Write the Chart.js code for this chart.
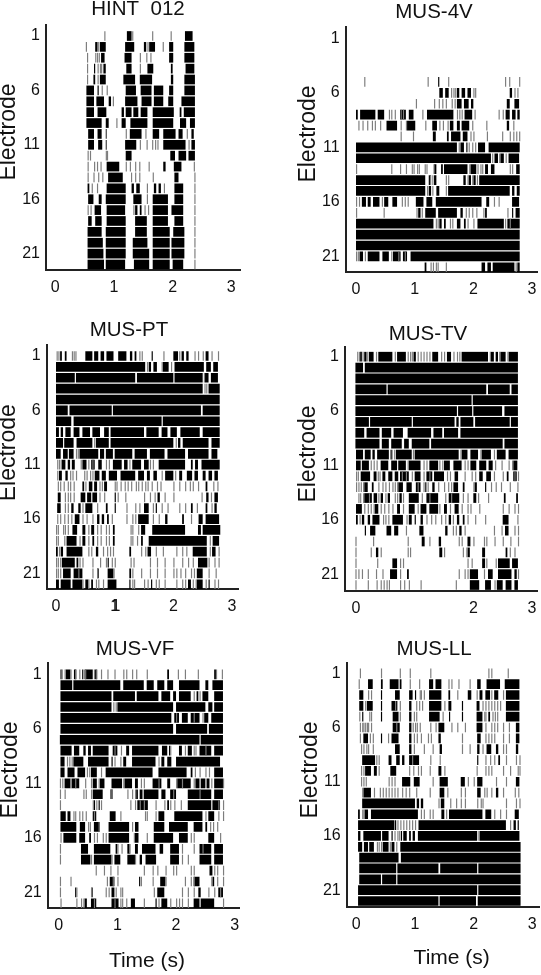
<!DOCTYPE html>
<html><head><meta charset="utf-8">
<script src="https://cdn.jsdelivr.net/npm/chart.js@4"></script>
<style>html,body{margin:0;padding:0;background:#fff;overflow:hidden;width:541px;height:975px}canvas{position:absolute}</style>
</head><body>
<script>
// Each row list = electrodes 1..22. Spans: flat start,end pairs in seconds (dense firing). Spikes: single spike times in seconds.
const electrodeTicks=[1,6,11,16,21];
const timeTicks=[0,1,2,3];
const timeTicksTV=[0,2,3];
const timeTicksPT=[0,1,1.02,2,3];
const hintSpans=[
[1.22,1.30,2.21,2.34],
[.68,.72,.76,.86,1.19,1.345,1.51,1.55,1.6,1.70,1.94,2.01,2.2,2.37],
[.78,.84,1.18,1.30,1.94,2.01,2.2,2.37],
[.66,.68,.82,.86,1.21,1.30,1.57,1.67,1.97,2.0,2.22,2.37],
[.65,.68,.76,.86,1.16,1.36,1.44,1.65,1.97,2.01,2.2,2.38],
[.53,.66,.72,.74,1.2,1.375,1.455,1.64,1.68,1.84,1.94,2.01,2.2,2.38],
[.53,.66,.7,.83,.91,.95,1.19,1.40,1.47,1.64,1.68,1.84,1.925,2.01,2.15,2.38],
[.53,.66,.72,.87,1.13,1.17,1.2,1.3,1.33,1.415,1.455,1.57,1.66,2.02,2.12,2.15,2.19,2.38],
[.53,.79,.86,.91,1.13,1.2,1.28,1.57,1.66,2.01,2.125,2.23,2.295,2.38],
[.56,.66,.72,.79,.86,.875,1.27,1.47,1.66,1.77,1.84,2.05,2.10,2.17,2.32,2.36],
[.56,.66,.73,.8,.86,.875,1.19,1.38,1.84,2.22,2.32,2.38],
[1.2,1.3,1.96,2.04,2.1,2.23,2.27,2.38],
[.875,1.09,1.84,1.88,2.02,2.15],
[.9,1.15,2.03,2.1],
[.55,.58,.875,1.20,1.3,1.34,1.38,1.44,1.68,1.72,1.76,1.8,2.03,2.18],
[.56,.65,.74,.79,.86,1.2,1.33,1.47,1.66,1.92,2.03,2.18],
[.67,.78,.875,1.19,1.36,1.4,1.44,1.47,1.66,1.92,1.98,2.18],
[.56,.62,.68,.79,.875,1.2,1.36,1.56,1.66,1.92,2.03,2.18],
[.55,.79,.86,1.2,1.36,1.56,1.66,1.95,2.01,2.2],
[.55,.81,.86,1.2,1.32,1.57,1.66,1.95,1.98,2.2],
[.55,.82,.86,1.2,1.32,1.6,1.66,1.95,1.98,2.2],
[.55,.83,.86,1.19,1.34,1.6,1.66,1.95,2.0,2.18]];
const hintSpikes=[
[.835,1.31,1.65,1.965],
[.52,.73,1.57,1.83],
[.54,.68,.71,.74,1.44,1.55,1.62],
[.54,.72,.76,.78,1.44],
[.54,.72],
[.79,.875],
[.98],[],
[1.04],
[1.2,1.535,2.24],
[1.44,1.555,1.65,1.7,1.74,2.27],
[.55,.59,.86,.88],
[.55,.66,.71,.77,1.2,1.27,1.36,1.43,1.59,2.36],
[.55,.65,.73,.8,1.29,1.36,1.43,1.66,2.37],
[.62,.71,1.56,1.85,2.37],
[1.56,2.37],
[.55,.6,1.33,1.52,1.58,2.37],
[2.37],[2.37],[2.37],[2.37],[2.37]];
const fourVSpans=[
[],[],[],[],
[1.40,1.42],
[1.42,1.48,1.52,1.58,1.72,1.76,1.8,1.86,1.9,1.96,2.62,2.66],
[1.72,1.8,1.84,1.92,1.96,2.0,2.57,2.62,2.7,2.78],
[0,.03,.07,.33,.37,.48,.75,.85,.9,.98,1.21,1.66,1.85,1.98,2.55,2.62,2.66,2.72,2.75,2.79],
[.52,.7,.87,1.01,1.3,1.38,1.6,1.66,1.72,1.77,1.8,1.93,2.57,2.61],
[1.31,1.36,1.55,1.58,1.62,1.78,1.82,1.9],
[0,1.72,1.78,1.84,1.88,1.9,2.08,2.2,2.26,2.79],
[0,2.3,2.36,2.42,2.46,2.52,2.6,2.78],
[1.33,1.37,1.45,1.48,1.5,1.9,1.95,2.05,2.2,2.25,2.3,2.36,2.73,2.79],
[0,1.18,1.24,1.28,1.33,1.37,1.83,1.87,1.92,1.96,2.0,2.04,2.1,2.79],
[0,1.18,1.24,1.28,1.37,1.42,1.57,2.62,2.66,2.7,2.74,2.79],
[.1,.17,.2,.25,.29,.4,.48,.55,.62,.7,1.02,1.15,1.2,1.3,1.36,2.14,2.22,2.27,2.66,2.78],
[1.06,1.1,1.18,1.36,1.4,1.72,1.78,1.82,2.2,2.23,2.66,2.68,2.72,2.79],
[0,1.32,1.42,1.46,1.5,1.53,1.72,1.78,1.84,1.87,2.07,2.52,2.58,2.79],
[0,2.79],
[0,2.79],
[.06,.12,.2,.4,.45,.56,.63,.76,.8,.87,.93,2.79],
[1.17,1.2,2.14,2.2,2.24,2.3,2.33,2.7,2.75,2.79]];
const fourVSpikes=[
[],[],[],[],
[.14,1.22,1.57,2.54,2.61,2.78],
[1.62,1.66,1.69,2.0,2.03,2.7,2.75],
[1.02,1.33,1.41,1.47,1.53,1.63,1.68],
[.56,.6,.66,.76,.8,1.13,1.72,1.76,1.8,2.02,2.43,2.5],
[.04,.11,.19,.27,.32,.41,.76,.85,1.18,1.42,1.48,1.56,1.98,2.22,2.68],
[.76,.97,1.95,2.0,2.23,2.49,2.62,2.68,2.73,2.78],
[1.75,1.92,1.98,2.03],
[2.32,2.44,2.55],
[0,.6,.75,.85,.95,.98,1.04,1.07,1.17,1.2,1.32,1.93,2.07,2.12,2.15,2.62,2.66],
[1.26,1.3,1.53,1.57,1.9,1.98,2.06],
[1.21,1.3,1.53],
[0,.05,.44,.78,.83,.88,2.35,2.43],
[0,.47,1.03,1.12,1.87,1.92,1.98,2.05,2.17,2.58],
[1.36,1.39,1.6,1.64,1.9,2.0,2.54,2.62],
[],[],
[0,.03,.15,.6,.72,.83],
[1.27,1.31,1.36,1.39,1.53,2.72]];
const ptSpans=[
[.07,.1,.15,.18,.5,.62,.65,.72,.76,.82,.86,.98,1.06,1.2,1.26,1.3,1.34,1.37,1.63,1.65,2.0,2.08,2.14,2.18,2.22,2.26,2.55,2.6],
[0,1.52,1.58,1.62,1.66,1.72,1.82,1.92,2.02,2.52,2.56,2.64,2.68,2.76],
[0,.32,.34,1.35,1.38,2.0,2.02,2.5,2.54,2.6,2.64,2.76],
[0,2.5,2.6,2.79],
[0,2.79],
[0,.2,.23,.95,.97,2.47,2.5,2.79],
[0,.26,.3,1.8,1.82,2.79],
[0,.05,.08,.12,.16,.25,.3,.4,.45,.58,.62,.75,.82,.9,.93,1.5,1.54,1.75,1.8,1.9,1.95,2.06,2.12,2.45,2.5,2.79],
[0,.12,.14,.3,.35,.62,.68,.9,.93,2.0,2.08,2.12,2.16,2.6,2.65,2.79],
[0,.08,.12,.2,.22,.3,.4,.72,.75,.82,.85,.97,1.0,1.3,1.34,1.55,1.6,1.85,1.9,2.2,2.25,2.6,2.65,2.75],
[.1,.16,.2,.24,.27,.32,.45,.52,.6,.66,.72,.78,.97,1.12,1.16,1.22,1.3,1.45,1.5,1.58,1.75,2.2,2.3,2.33,2.37,2.42,2.48,2.79],
[.05,.1,.16,.2,.66,.74,.78,.85,.9,1.04,1.1,1.35,1.4,1.5,1.55,1.6,1.66,1.72,1.86,2.0,2.1,2.15,2.23,2.32,2.36,2.42,2.5,2.55,2.6,2.66,2.7,2.76],
[.45,.48,.56,.62,.65,.7,.82,.87,2.55,2.58],
[.03,.08,.42,.5,.53,.6,.62,.7,1.0,1.02,1.73,1.77,2.56,2.6,2.7,2.76],
[.02,.08,.26,.3,.38,.42,.5,.62,.85,.88,1.0,1.02,1.5,1.58,1.7,1.72,2.3,2.33,2.55,2.58,2.7,2.74],
[.32,.4,.7,.74,.78,.82,.87,.9,1.4,1.58,1.86,1.9,2.15,2.18,2.43,2.5,2.55,2.78],
[.28,.36,.45,.5,.6,.65,.97,1.0,1.45,1.52,1.64,2.2,2.42,2.47,2.5,2.8],
[.18,.35,.45,.5,.62,.65,.97,1.0,1.45,1.48,1.58,2.57,2.67,2.78],
[0,.03,.08,.12,.18,.45,.68,.72,1.25,1.28,1.56,1.62,2.33,2.57,2.66,2.72],
[.1,.32,.35,.38,.88,.9,2.42,2.58],
[.12,.25,.3,.45,.7,.73,.88,.98,1.25,1.28,2.4,2.5],
[0,.05,.08,.25,.28,.45,.5,.55,.6,.63,.88,1.03,1.25,1.27,1.62,1.64,2.25,2.3,2.4,2.5,2.6,2.62]];
const ptSpikes=[
[.01,.04,.27,.3,.33,1.42,1.46,1.83,2.1,2.36,2.42,2.5,2.65,2.76],
[1.55,1.8,1.96],[2.52],[2.53,2.56],[],[],[],[],
[.65,2.04],
[.34,.37],
[.02,.05,.08,.42,.55,.62,.85,.9,1.25,1.6,1.65],
[.02,.24,.28,.34,.48,.52,.58,.62,1.8,2.03],
[.03,.07,.13,.2,.24,.3,.5,.74,.78,1.0,1.03,1.1,1.17,1.22,1.28,1.36,1.4,1.46,1.52,1.56,1.63,1.72,1.78,2.0,2.1,2.2,2.28,2.33,2.42,2.68,2.75],
[.15,.2,.24,.3,.74,.82,1.05,1.18,1.5,1.6,1.68,1.85,2.0,2.48,2.64],
[.15,.2,.45,.7,1.2,1.35,1.42,1.65,1.8,1.9,2.1,2.2,2.4,2.65],
[.02,.07,.14,.2,.26,.45,.52,.62,.95,1.2,1.3,1.35,1.65,1.75,2.3],
[0,.03,.12,.15,.2,.55,.7,.76,.85,.9,1.27,1.3,1.4],
[0,.03,.14,.4,.55,.7,.76,.85,.9,1.27,1.3,1.38,2.62],
[.05,.55,.6,.8,.87,.92,.97,1.45,1.52,1.7,1.82,2.05,2.15,2.22,2.62,2.77],
[0,.03,.07,.4,.45,.62,.75,.85,.95,1.0,1.27,1.32,1.6,1.72,1.85,2.0,2.15,2.25,2.33,2.6,2.7,2.77],
[0,.03,.07,.38,.62,.7,.98,1.3,1.45,1.6,1.72,1.85,2.0,2.05,2.12,2.2,2.3,2.35,2.6,2.72],
[.45,.55,.68,.72,.8,1.3,1.33,1.5,1.56,1.7,1.75,1.85,2.05,2.15,2.2,2.33,2.38,2.55,2.7,2.76]];
const tvSpans=[
[.07,.1,.14,.18,.22,.3,.38,.62,.7,.85,.98,1.02,1.3,1.4,1.55,1.62,1.8,2.25,2.3,2.35,2.38,2.42,2.46,2.55,2.6,2.76],
[-.01,.12,.15,2.76],
[-.01,2.76],
[-.01,.52,.54,2.22,2.25,2.62,2.65,2.76],
[-.01,1.97,1.99,2.76],
[-.01,1.72,1.74,1.98,2.0,2.49,2.53,2.76],
[-.01,.22,.24,.95,.97,1.68,1.71,1.75,1.78,2.0,2.03,2.62,2.64,2.76],
[-.01,.14,.18,.4,.44,.6,.64,.8,.88,1.28,1.32,1.47,1.5,1.74,1.78,2.76],
[-.01,.4,.44,.56,.6,.78,.82,.9,.95,1.25,1.28,2.5,2.53,2.76],
[0,.12,.15,.25,.28,.32,.36,.56,.6,.62,.68,.95,1.0,1.75,1.8,1.9,1.95,2.08,2.14,2.3,2.4,2.55,2.6,2.76],
[0,.08,.1,.22,.42,.55,.6,.7,.72,.85,.9,1.1,1.25,1.4,1.5,1.6,1.66,1.8,1.95,2.05,2.1,2.22,2.26,2.33,2.68,2.75],
[.08,.24,.3,.35,.45,.5,.55,.62,.66,.72,.75,.9,1.0,1.1,1.2,1.3,1.33,1.5,1.68,1.74,2.1,2.16,2.22,2.3,2.57,2.6,2.68,2.74],
[.14,.2,.27,.3,.72,.8,.86,.95,1.02,1.1,1.18,1.2,1.3,1.34,1.66,1.74,1.82,1.85,2.02,2.06,2.2,2.22],
[.14,.27,.3,.36,.42,.46,.54,.58,.74,.78,.9,1.07,1.2,1.4,1.58,1.76,2.0,2.05,2.52,2.55,2.73,2.76],
[0,.1,.32,.38,.7,.75,.9,1.0,1.1,1.2,1.25,1.4,1.5,1.55,1.68,1.75],
[0,.03,.1,.14,.2,.24,.28,.4,.62,.8,.9,.95,1.0,1.02,1.1,1.14,1.58,1.62,1.72,1.76,1.82,1.85,2.5,2.6],
[.15,.17,.24,.33,.52,.6,.65,.72,1.08,1.15,1.52,1.56,1.76,1.8,2.54,2.6],
[1.12,1.17,1.41,1.45,1.9,1.95],
[.34,.38,1.42,1.47,1.9,1.94,2.15,2.2,2.55,2.58],
[.62,.7,2.15,2.2,2.42,2.62,2.66,2.76],
[.58,.7,.87,.9,1.94,2.08,2.25,2.33,2.42,2.65,2.7,2.74],
[1.94,2.1,2.2,2.3,2.4,2.5,2.55,2.65,2.7,2.76]];
const tvSpikes=[
[.02,.05,.11,.19,.34,.66,.88,.92,.95,1.05,1.1,1.15,1.2,1.25,1.45,1.5,1.66,1.72,1.76,2.28,2.44,2.58],
[],[],[],[],[],[],[],[],
[.58,.65,.97,1.78,2.12,2.35],
[.25,.3,.35,.88,1.15,1.2,1.42,1.47,1.85,1.9,2.37,2.48,2.6,2.66],
[0,.03,.37,.4,.78,.85,.95,1.15,1.25,1.55,1.6,1.85,1.97,2.03,2.35,2.5,2.7,2.76],
[0,.04,.08,.12,.38,.45,.5,.56,.62,.66,.7,1.05,1.15,1.22,1.4,1.5,1.57,1.62,2.0,2.3,2.38,2.47,2.62,2.75],
[.04,.07,.12,.22,.38,.5,.66,.7,.8,1.12,1.25,1.52,1.62,1.82,1.9,2.08,2.25],
[.14,.2,.25,.3,.42,.48,.55,.62,.8,1.05,1.42,1.6,1.8,1.9,1.95,2.1,2.5,2.6,2.7,2.76],
[.06,.46,.5,.55,.86,1.2,1.28,1.35,1.45,1.52,1.65,1.9,2.03,2.2,2.75],
[.85,1.65,1.7,1.85,2.35,2.48,2.7,2.76],
[-.01,.29,.88,1.25,1.75,1.8,2.0,2.18,2.22,2.36,2.5,2.63,2.76],
[-.01,.25,.42,.88,.92,1.5,1.82,1.88,2.62,2.7],
[-.01,.36,.75,.8,1.9,1.97,2.22,2.38],
[-.01,.04,.1,.2,.34,.45,.75,1.75,1.85,1.9,2.18,2.76],
[-.01,.2,.35,.42,.47,.52,.56,.75,.82,.9,1.1,1.7,2.36]];
const vfSpans=[
[.03,.05,.12,.2,.26,.3,.4,.42,.44,.58,.62,.65,1.85,1.88,2.65,2.68],
[.03,.23,.25,1.05,1.1,1.45,1.5,1.62,1.68,1.8,1.85,1.95,2.05,2.4,2.5,2.55,2.62,2.8],
[.03,.9,.93,1.3,1.33,1.7,1.75,1.9,1.95,2.0,2.05,2.25,2.35,2.38,2.45,2.55,2.65,2.8],
[.03,.9,1.0,1.95,2.0,2.5,2.55,2.62,2.65,2.8],
[.03,1.92,1.97,2.05,2.1,2.2,2.25,2.4,2.48,2.55,2.6,2.8],
[.03,1.95,2.0,2.53,2.56,2.8],
[.02,2.4,2.42,2.8],
[.03,.22,.26,.35,.42,.46,.5,.55,.58,.85,.92,1.0,1.15,1.2,1.25,1.7,1.76,1.85,1.88,1.9,2.05,2.1,2.2,2.27,2.4,2.6,2.65,2.8],
[.03,.1,.25,.42,.5,.85,.9,.92,1.1,1.15,1.25,1.65,1.75,1.8,1.85,1.92,2.0,2.75,2.8],
[.03,.1,.15,.27,.32,.45,.55,.65,.8,1.6,1.7,2.18,2.25,2.28,2.65,2.8],
[.1,.2,.22,.35,.58,.65,.7,.78,.9,1.08,1.12,1.25,1.3,1.35,1.6,1.75,1.85,1.9,2.02,2.25,2.33,2.4,2.42,2.5,2.52,2.57,2.65,2.8],
[.58,.75,.88,.92,1.32,1.35,1.38,1.42,1.45,1.7,1.75,1.82,1.9,2,2.2,2.6,2.65,2.8],
[.6,.62,.68,.7,1.34,1.52,1.85,1.88,2.2,2.6,2.62,2.75],
[.03,.12,.15,.2,.58,.64,.87,.97,1.7,1.8,1.97,2.45,2.55,2.65],
[.03,.3,.36,.45,.6,.7,.85,1.2,1.3,1.36,1.62,1.8,1.88,2.2,2.3,2.45,2.5,2.53],
[.08,.3,.35,.45,.52,.55,.85,1.2,1.3,1.36,1.62,1.95,2.05,2.2,2.55,2.65],
[.38,.5,.6,.88,.97,1.0,1.17,1.22,1.3,1.35,1.42,1.65,1.72,1.78,1.9,2.05,2.4,2.6,2.65,2.8],
[.38,.54,.6,.9,.95,1.05,1.17,1.3,1.38,1.42,1.48,1.66,1.9,2.05,2.4,2.6,2.65,2.8],
[2.57,2.62],
[.87,.95,1.37,1.39,1.73,1.82,2.3,2.4,2.62,2.65],
[.28,.3,.56,.58,.9,.95,1.68,1.8,2.38,2.42,2.72,2.8],
[.44,.48,.55,.64,.9,1.02,1.23,1.3,1.65,1.67,1.75,1.85,2.3,2.4,2.42,2.65]];
const vfSpikes=[
[.05,.1,.2,.28,.35,.45,.6,.64,.72,.83,.95,1.1,1.15,1.25,1.32,1.5,2.03,2.15,2.37,2.68,2.78],
[],[2.3,2.4],[.93,.97],[2.0,2.3,2.45],[],[],
[.95,1.06,1.9,2.15,2.3,2.33,2.5],
[.14,.18,.22,.95,1.05,1.7],
[.48,.52,.72,2.32,2.4,2.5,2.56],
[.02,.06,.2,.28,.45,.55,.68,1.1,1.4,1.45,1.7,2.0,2.1,2.3,2.6,2.8],
[.02,.1,.42,.46,.55,.88,.9,1.17,1.25,1.3,1.42,1.95,2.4],
[.02,.58,.64,.72,1.22,1.3,1.38,1.45,1.65,1.8,1.9,1.97,2.08,2.72,2.8],
[.25,.28,.35,.4,.46,.6,1.05,1.47,1.5,1.65,2.5,2.72,2.8],
[.5,.53,.68,1.25,2.58,2.63,2.7],
[.03,.6,.65,.75,.8,1.28,1.5,2.25,2.3,2.75],
[.02,1,1.07,1.2,2.1,2.3,2.45],
[.02,.55,.9,1.3,2.1,2.2],
[.63,.77,.88,1,1.45,1.6,1.68,1.82,1.95,2.0,2.25,2.3,2.65,2.7,2.8],
[.02,.2,.82,.92,1.0,1.4,1.6,1.82,2.15,2.25,2.3,2.6,2.7,2.8],
[.02,.3,.55,.8,.85,.97,1.05,1.08,1.62,2.1,2.2,2.3,2.55,2.65,2.75],
[.03,.3,.38,.42,.6,.95,1.05,1.08,1.15,1.45,1.7,1.9,2.0,2.05,2.1,2.2,2.8]];
const llSpans=[
[],
[.2,.28,.42,.45,.57,.72,.74,.77,1.24,1.31,1.35,1.45,2.06,2.12,2.22,2.45,2.53,2.78],
[.05,.12,.42,.44,.66,.74,.9,.96,1.0,1.02,1.24,1.45,1.57,1.6,1.9,1.96,2.1,2.15,2.2,2.28,2.35,2.42,2.55,2.78],
[.05,.12,.18,.28,.42,.44,.6,.7,.9,.94,1.24,1.45,1.57,1.62,1.8,1.82,2.05,2.1,2.55,2.78],
[.1,.12,.42,.44,.62,.72,.9,.94,1.24,1.42,1.58,1.6,1.8,1.82,2.05,2.15,2.25,2.28,2.55,2.78],
[.62,.74,.9,.94,1.4,1.5,2.05,2.15,2.72,2.78],
[.12,.2,.42,.44,.6,.72,.9,.94,1.4,1.44,2.06,2.12,2.72,2.78],
[.66,.74,.9,.94,1.42,1.46,2.06,2.1,2.22,2.3,2.38,2.42,2.72,2.76],
[.1,.32,.55,.6,.68,.74,.78,.82,.9,1.07,2.06,2.08,2.42,2.45],
[.15,.25,.3,.35,.58,.68,1.4,1.45],
[.78,.92,.98,1.08,1.42,1.56,1.78,1.85,2.06,2.15,2.72,2.78],
[.12,.25,1.42,1.5,2.06,2.12,2.38,2.42],
[.1,1.0,1.03,1.07,1.1,1.14,1.44,1.5],
[.03,.06,.14,.2,.25,1.05,1.45,1.5,1.58,2.15,2.2,2.3,2.7,2.77],
[.03,.65,.66,.68,1.06,2.55,2.68,2.72,2.75,2.77],
[.03,.07,.12,.42,.44,.55,.6,.62,.76,.78,.8,.86,.9,.93,.96,1.0,1.05,2.06,2.1,2.78],
[.03,.1,.13,.2,.22,.3,.45,.55,.6,.65,.75,2.8],
[.05,.72,.76,2.8],
[.05,.68,.7,1.4,1.43,2.06,2.08,2.8],
[.05,.42,.44,.68,.7,2.8],
[.03,2.06,2.08,2.8],
[.03,1.4,1.42,2.04,2.07,2.8]];
const llSpikes=[
[.06,.42,.74,.91,1.26,2.25,2.3,2.58],
[.04,.91,1.07,1.57,1.62,1.74,1.93],
[.2,.25,1.08,1.1,1.15,1.72,2.05,2.3,2.5],
[.15,.66,.74,1.02,1.07,1.12,1.5,2.15,2.2,2.25,2.3,2.35,2.4,2.45],
[.05,.22,.25,.74,.98,1.02,1.47,2.18,2.2,2.32,2.36,2.4],
[.06,.1,.12,.15,.18,.2,.25,.68,.96,1.0,1.03,1.08,1.26,1.35,1.62,1.72,1.85,2.2,2.3,2.35,2.4,2.5,2.6],
[.06,.23,.28,.54,.98,1.03,1.1,1.22,1.27,1.8,2.2,2.25,2.3,2.35,2.5,2.6],
[.08,.12,.17,.2,.28,.98,1.15,1.3,1.8,1.93,2.15,2.5,2.55],
[.34,.38,.95,1.26,1.42,2.2,2.28,2.35,2.55,2.72,2.78],
[.08,.12,.38,.9,.97,1.05,1.1,1.25,1.5,2.05,2.2,2.25,2.3,2.5,2.62,2.75,2.78],
[.08,.12,.16,.55,.6,.65,1.3,1.9,2.0,2.38,2.55],
[.1,.3,.4,.45,.5,.55,.6,.65,.7,.78,.84,.9,1.02,1.25,1.55,1.78,1.85,2.18,2.22,2.3,2.5,2.7,2.76],
[1.4,1.6,1.7,1.78,1.85,2.06,2.12,2.15,2.55,2.72,2.78],
[.1,.12,1.1,1.15,1.25,1.3,1.53,2.35,2.45,2.55],
[.7,.75,.8,.85,.9,.95,1.0,2.62],
[.65,.7,.73,2.08],
[.35,.38,.42,.57,.68],
[],[],[],[],[]];

const panelNames=['HINT  012','MUS-4V','MUS-PT','MUS-TV','MUS-VF','MUS-LL'];
const panelSpans=[hintSpans,fourVSpans,ptSpans,tvSpans,vfSpans,llSpans];
const panelSpikes=[hintSpikes,fourVSpikes,ptSpikes,tvSpikes,vfSpikes,llSpikes];
const panelTicks=[timeTicks,timeTicks,timeTicksPT,timeTicksTV,timeTicks,timeTicks];

// layout only (page pixels)
const layouts=[
 {l:0,  t:0,  w:270,h:316,ax:46,  top:25, base:270,right:240,x0:55.3, r1:36,  r22:264.5,tx:138,ty:9,  ex:9,  ey:132},
 {l:270,t:0,  w:290,h:316,ax:345.7,top:27,base:272,right:537,x0:356,  r1:38.3,r22:267.3,tx:434,ty:12, ex:309,ey:134},
 {l:0,  t:316,w:270,h:316,ax:46.7,top:345,base:589,right:238,x0:56,   r1:356, r22:584.3,tx:129,ty:330,ex:9,  ey:452.7},
 {l:270,t:316,w:290,h:316,ax:345, top:347,base:591,right:537,x0:356,  r1:356.7,r22:585, tx:428,ty:334,ex:309,ey:454},
 {l:0,  t:632,w:270,h:343,ax:47.7,top:663,base:908,right:239,x0:58.7, r1:674.3,r22:903.3,tx:135,ty:649,ex:11, ey:770,sx:147,sy:961},
 {l:270,t:632,w:290,h:343,ax:346.7,top:663,base:907,right:539,x0:356.3,r1:673.3,r22:901, tx:434,ty:649,ex:311,ey:770,sx:451.7,sy:958}
];
const pxPerSecond=58.67, spikeWidth=0.02, FONT='"Liberation Sans", Arial, sans-serif', INK='#111';

function spanBars(rows){const out=[];rows.forEach((r,i)=>{for(let k=0;k+1<r.length;k+=2)out.push({x:[r[k],r[k+1]],y:i+1});});return out;}
function spikeBars(rows){const out=[];rows.forEach((r,i)=>r.forEach(t=>out.push({x:[t,t+spikeWidth],y:i+1})));return out;}

function nudgeTitle(scale,fn){
  if(scale._nudged)return; scale._nudged=true;
  const orig=scale.drawTitle;
  scale.drawTitle=function(){const c=this.ctx;c.save();const d=fn(this);c.translate(d[0],d[1]);orig.call(this);c.restore();};
}
const placeTitle={id:'placeTitle',afterLayout(chart,args,o){
  const b=chart.titleBlock;if(!b)return;
  const dx=o.cx-(b.left+b.right)/2;b.left+=dx;b.right+=dx;
  const top=o.cy-12;b.bottom+=top-b.top;b.top=top;
}};

panelNames.forEach((name,i)=>{
  const L=layouts[i],c=document.createElement('canvas');
  c.width=L.w;c.height=L.h;c.style.left=L.l+'px';c.style.top=L.t+'px';c.style.width=L.w+'px';c.style.height=L.h+'px';
  document.body.appendChild(c);
  const rowStep=(L.r22-L.r1)/21;
  const hasTime=L.sx!==undefined;
  new Chart(c,{
    type:'bar',
    data:{datasets:[
      {label:'Isolated spikes',data:spikeBars(panelSpikes[i]),backgroundColor:'#7d7d7d',barThickness:9.7,inflateAmount:0,borderWidth:0,grouped:false},
      {label:'Dense firing',data:spanBars(panelSpans[i]),backgroundColor:'#000',barThickness:9.7,inflateAmount:0,borderWidth:0,grouped:false}
    ]},
    plugins:[placeTitle],
    options:{
      indexAxis:'y',responsive:false,animation:false,devicePixelRatio:1,
      layout:{padding:{left:0,top:0,bottom:0,right:L.l+L.w-L.right}},
      plugins:{
        legend:{display:false},tooltip:{enabled:false},
        title:{display:true,text:name,color:INK,font:{family:FONT,size:20.5,weight:'normal',lineHeight:24/20.5},padding:{top:0,bottom:L.top-L.t-24}},
        placeTitle:{cx:L.tx-L.l,cy:L.ty-L.t}
      },
      scales:{
        x:{type:'linear',position:'bottom',
          min:(L.ax-L.x0)/pxPerSecond,max:(L.right-L.x0)/pxPerSecond,
          grid:{display:false,tickLength:0},border:{display:true,color:'#222',width:2},
          ticks:{color:INK,font:{family:FONT,size:16},padding:8,maxRotation:0,autoSkip:false,callback:v=>String(Math.floor(v))},
          afterBuildTicks:s=>{s.ticks=panelTicks[i].map(v=>({value:v}));},
          afterFit:s=>{s.height=L.t+L.h-L.base;
            if(hasTime)nudgeTitle(s,sc=>[L.sx-L.l-(sc.left+sc.right)/2,L.sy-L.t-(sc.bottom-12.6)]);},
          title:{display:hasTime,text:'Time (s)',color:INK,font:{family:FONT,size:21,lineHeight:1.2},padding:0}
        },
        y:{type:'linear',position:'left',reverse:true,offset:false,
          min:1-(L.r1-L.top)/rowStep,max:22+(L.base-L.r22)/rowStep,
          grid:{display:false,tickLength:0},border:{display:true,color:'#222',width:2},
          ticks:{color:INK,font:{family:FONT,size:16},padding:6,autoSkip:false,callback:v=>String(v)},
          afterBuildTicks:s=>{s.ticks=electrodeTicks.map(v=>({value:v}));},
          afterFit:s=>{s.width=L.ax-L.l;
            nudgeTitle(s,sc=>[L.ex-L.l-(sc.left+13.8),L.ey-L.t-(sc.top+sc.bottom)/2]);},
          title:{display:true,text:'Electrode',color:INK,font:{family:FONT,size:23,lineHeight:1.2},padding:0}
        }
      }
    }
  });
});
</script>
</body></html>
